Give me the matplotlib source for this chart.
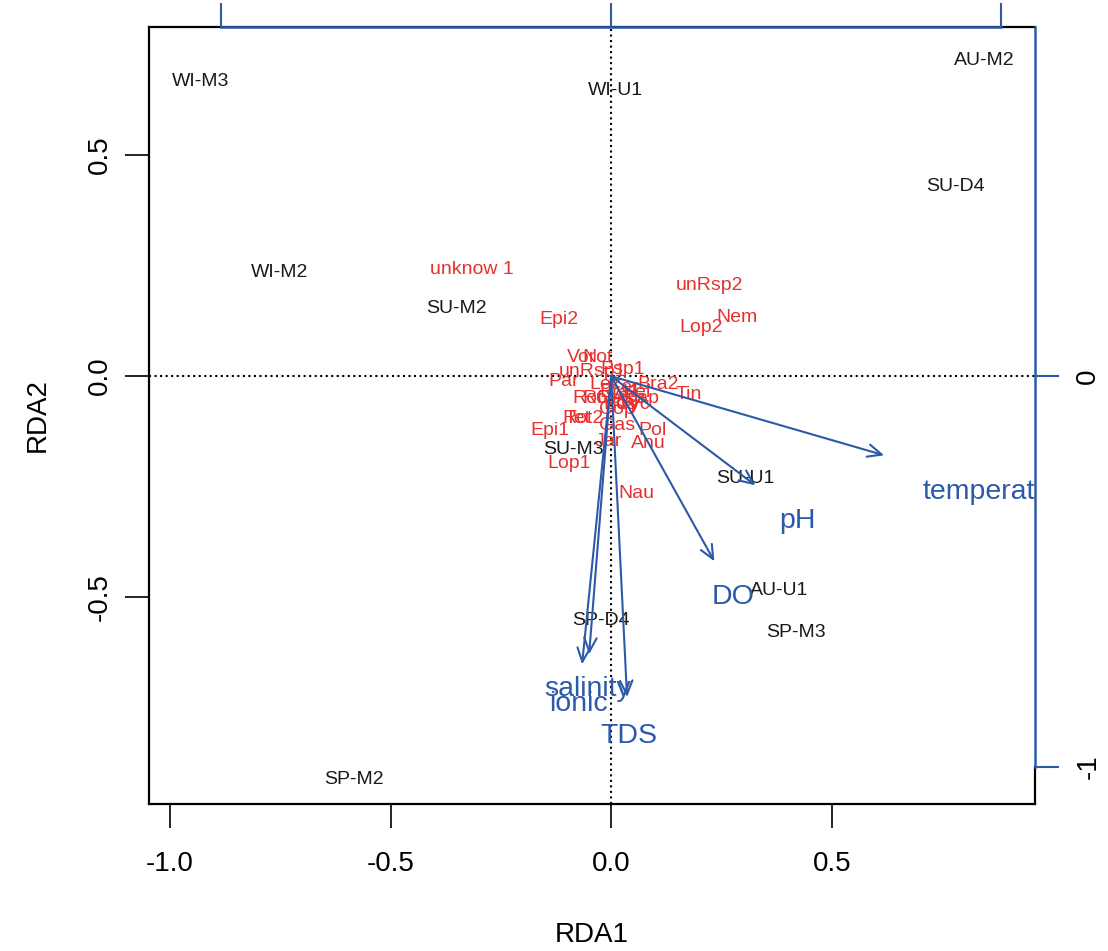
import matplotlib
matplotlib.use('Agg')
import matplotlib.pyplot as plt

plt.rcParams['font.family'] = ['Liberation Sans', 'DejaVu Sans']

# site scores (RDA1, RDA2)
site_names = ['WI-M3', 'WI-U1', 'AU-M2', 'SU-D4', 'WI-M2', 'SU-M2',
              'SU-M3', 'SU-U1', 'AU-U1', 'SP-D4', 'SP-M3', 'SP-M2']
site_x = [-0.932, 0.009, 0.846, 0.780, -0.753, -0.351,
          -0.086, 0.304, 0.381, -0.023, 0.420, -0.583]
site_y = [0.667, 0.647, 0.715, 0.428, 0.235, 0.152,
          -0.167, -0.231, -0.484, -0.552, -0.579, -0.912]

# species scores
sp_names = ['unknow 1', 'unRsp2', 'Nem', 'Lop2', 'Epi2', 'Vor', 'Not', 'unRsp1',
            'Psp1', 'Par', 'Lec', 'Bra2', 'Tin', 'Ker', 'Bra1', 'Kel', 'Rof',
            'Rot', 'Cep', 'Asp', 'Dap', 'Bos', 'Cyc', 'Cop', 'Rot2', 'Tet',
            'Gas', 'Pol', 'Epi1', 'Jar', 'Anu', 'Lop1', 'Nau']
sp_x = [-0.315, 0.224, 0.286, 0.204, -0.118, -0.068, -0.032, -0.043,
        0.025, -0.107, -0.014, 0.107, 0.177, 0.029, 0.020, 0.057, -0.054,
        -0.032, 0.007, 0.039, 0.068, 0.020, 0.050, 0.014, -0.063, -0.075,
        0.014, 0.093, -0.138, -0.007, 0.084, -0.095, 0.057]
sp_y = [0.242, 0.206, 0.133, 0.109, 0.129, 0.043, 0.043, 0.011,
        0.014, -0.011, -0.018, -0.018, -0.041, -0.025, -0.036, -0.036, -0.050,
        -0.050, -0.050, -0.050, -0.050, -0.063, -0.063, -0.075, -0.095, -0.095,
        -0.111, -0.124, -0.122, -0.147, -0.152, -0.197, -0.265]

# environmental variables: arrow heads and label positions
env_names = ['temperature', 'pH', 'DO', 'salinity', 'ionic', 'TDS']
env_x = [0.619, 0.327, 0.234, -0.066, -0.050, 0.036]
env_y = [-0.179, -0.247, -0.419, -0.652, -0.629, -0.726]
env_lx = [0.880, 0.422, 0.277, -0.054, -0.075, 0.039]
env_ly = [-0.262, -0.328, -0.500, -0.708, -0.742, -0.814]

mul = 0.884  # biplot arrow scaling

red = '#e8312f'
blue = '#2c5aa8'

fig = plt.figure(figsize=(11.08, 9.51), dpi=100)
ax = fig.add_axes([149 / 1108, 1 - 804 / 951, 886 / 1108, 777 / 951])
ax.set_xlim(-1.048, 0.961)
ax.set_ylim(-0.968, 0.790)

ax.axhline(0, color='black', ls=':', lw=1.5, zorder=1)
ax.axvline(0, color='black', ls=':', lw=1.5, zorder=1)

for n, x, y in zip(site_names, site_x, site_y):
    ax.text(x, y, n, color='#1a1a1a', fontsize=14, ha='center', va='center')

for n, x, y in zip(sp_names, sp_x, sp_y):
    ax.text(x, y, n, color=red, fontsize=14, ha='center', va='center')

for x, y in zip(env_x, env_y):
    ax.annotate('', xy=(x, y), xytext=(0, 0),
                arrowprops=dict(arrowstyle='->,head_length=1.0,head_width=0.45',
                                color=blue, lw=1.5, shrinkA=0, shrinkB=0))
for n, x, y in zip(env_names, env_lx, env_ly):
    ax.text(x, y, n, color=blue, fontsize=20.5, ha='center', va='center',
            clip_on=True)

for s in ax.spines.values():
    s.set_linewidth(1.6)
ax.set_xticks([-1.0, -0.5, 0.0, 0.5])
ax.set_xticklabels(['-1.0', '-0.5', '0.0', '0.5'])
ax.set_yticks([-0.5, 0.0, 0.5])
ax.set_yticklabels(['-0.5', '0.0', '0.5'], rotation=90, va='center')
ax.tick_params(length=17, width=1.2, labelsize=20)
ax.tick_params(axis='x', pad=17)
ax.tick_params(axis='y', pad=9)
ax.set_xlabel('RDA1', fontsize=20, labelpad=32)
ax.set_ylabel('RDA2', fontsize=20, labelpad=26)

# blue biplot axes (top and right)
top = ax.secondary_xaxis('top', functions=(lambda v: v / mul, lambda v: v * mul))
top.set_zorder(5)
top.set_xticks([-1, 0, 1])
top.set_xticklabels([])
top.tick_params(colors=blue, length=17, width=1.5)
top.spines['top'].set_color(blue)
top.spines['top'].set_linewidth(1.8)
top.spines['top'].set_bounds(-1, 1)

right = ax.secondary_yaxis('right', functions=(lambda v: v / mul, lambda v: v * mul))
right.set_zorder(5)
right.set_yticks([-1, 0])
right.set_yticklabels(['-1', '0'], rotation=90, va='center')
right.tick_params(colors=blue, labelcolor='black', length=17, width=1.5,
                  labelsize=20, pad=12)
right.spines['right'].set_color(blue)
right.spines['right'].set_linewidth(1.8)
right.spines['right'].set_bounds(-1, 0.79 / mul)
ax.spines['right'].set_bounds(-0.968, -0.884)

fig.savefig('out.png', dpi=100)
